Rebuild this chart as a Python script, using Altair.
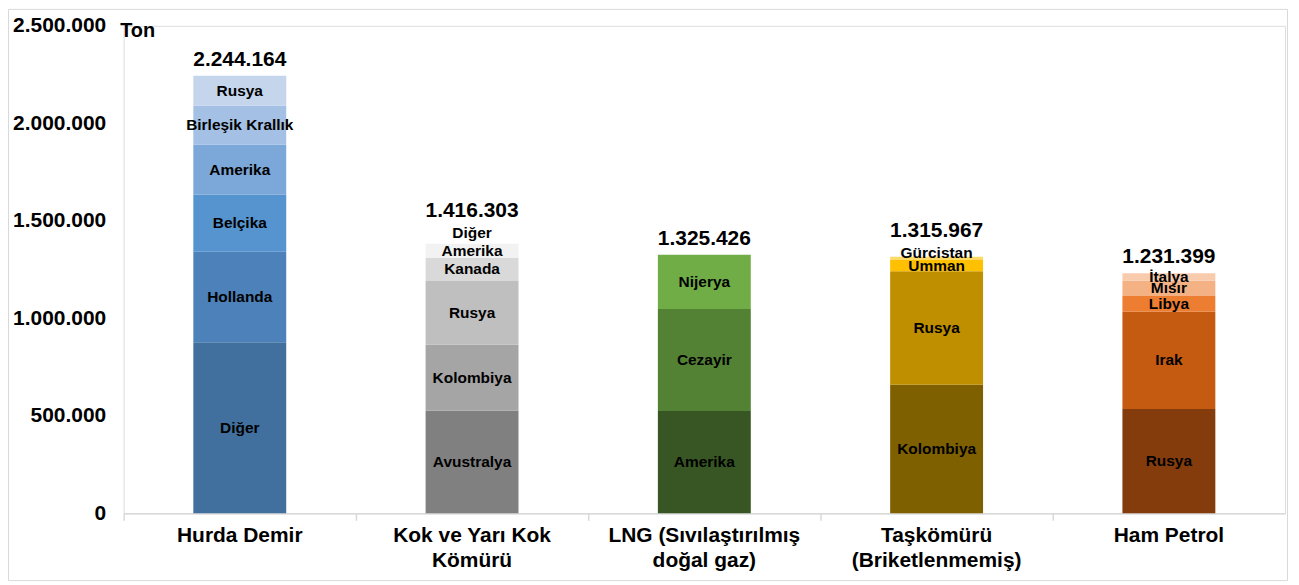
import altair as alt
import pandas as pd

FONT = "Liberation Sans"

categories = ["Hurda Demir", "Kok ve Yarı Kok|Kömürü", "LNG (Sıvılaştırılmış|doğal gaz)",
              "Taşkömürü|(Briketlenmemiş)", "Ham Petrol"]

hurda_countries = ["Diğer", "Hollanda", "Belçika", "Amerika", "Birleşik Krallık", "Rusya"]
hurda_values = [877000, 464000, 293000, 257000, 199000, 154164]
hurda_colors = ["#42709e", "#4c82b9", "#5594ce", "#7ca8d9", "#a4c1e5", "#c4d5ec"]

kok_countries = ["Avustralya", "Kolombiya", "Rusya", "Kanada", "Amerika", "Diğer"]
kok_values = [527000, 337000, 327000, 119000, 74000, 32303]
kok_colors = ["#808080", "#a5a5a5", "#bfbfbf", "#d9d9d9", "#f2f2f2", "#ffffff"]

lng_countries = ["Amerika", "Cezayir", "Nijerya"]
lng_values = [525000, 523000, 277426]
lng_colors = ["#375623", "#548235", "#70ad47"]

tas_countries = ["Kolombiya", "Rusya", "Umman", "Gürcistan"]
tas_values = [660000, 581000, 58000, 16967]
tas_colors = ["#7f6000", "#bf8f00", "#ffc000", "#ffd966"]

ham_countries = ["Rusya", "Irak", "Libya", "Mısır", "İtalya"]
ham_values = [535000, 500000, 80000, 78000, 38399]
ham_colors = ["#843c0c", "#c55a11", "#ed7d31", "#f4b183", "#f8cbad"]

y_ticks = [0, 500000, 1000000, 1500000, 2000000, 2500000]

groups = [
    (categories[0], hurda_countries, hurda_values, hurda_colors),
    (categories[1], kok_countries, kok_values, kok_colors),
    (categories[2], lng_countries, lng_values, lng_colors),
    (categories[3], tas_countries, tas_values, tas_colors),
    (categories[4], ham_countries, ham_values, ham_colors),
]

rows = []
tot_rows = []
SMALL = 35000
for cat, names, vals, cols in groups:
    for i, (n, v, c) in enumerate(zip(names, vals, cols)):
        rows.append({"category": cat, "country": n, "value": v, "color": c, "order": i})
    total = sum(vals)
    tot_rows.append({"category": cat, "total": total,
                     "label": f"{total:,}".replace(",", "."),
                     "raised": vals[-1] < SMALL})
df = pd.DataFrame(rows)
tot = pd.DataFrame(tot_rows)

yscale = alt.Scale(domain=[0, 2500000], nice=False, zero=True)

x_enc = alt.X(
    "category:N", sort=categories,
    scale=alt.Scale(paddingInner=0, paddingOuter=0),
    axis=alt.Axis(
        title=None, labelExpr="split(datum.label, '|')", labelFont=FONT,
        labelFontSize=21, labelFontWeight="bold", labelColor="#000000",
        labelAngle=0, labelPadding=4, labelLineHeight=25, labelBaseline="top",
        labelLimit=500, labelOverlap=False,
        domainColor="#d9d9d9", domainWidth=1.5, tickColor="#d9d9d9",
        tickSize=7, tickWidth=1.5, bandPosition=0,
    ),
)

y_axis = alt.Axis(
    values=y_ticks, labelExpr="replace(format(datum.value, ','), /,/g, '.')",
    grid=False, domain=False, ticks=False, labelPadding=18,
    labelFont=FONT, labelFontSize=21, labelFontWeight="bold", labelColor="#000000",
    title="Ton", titleAngle=0, titleAlign="left", titleBaseline="middle",
    titleX=-4, titleY=5, titleFont=FONT, titleFontSize=20, titleFontWeight="bold",
    titleColor="#000000",
)

bars = alt.Chart(df).mark_bar(width=alt.RelativeBandSize(0.4)).encode(
    x=x_enc,
    y=alt.Y("value:Q", stack="zero", scale=yscale, axis=y_axis),
    color=alt.Color("color:N", scale=None),
    order=alt.Order("order:Q", sort="ascending"),
)

seg = alt.Chart(df).transform_stack(
    stack="value", groupby=["category"],
    sort=[alt.SortField("order", order="ascending")], as_=["y0", "y1"]
).transform_calculate(mid="(datum.y0 + datum.y1) / 2")

seg_text = seg.transform_filter(f"datum.value >= {SMALL}").mark_text(
    font=FONT, fontSize=15.5, fontWeight="bold", color="#000000", baseline="middle"
).encode(
    x=alt.X("category:N", sort=categories),
    y=alt.Y("mid:Q", scale=yscale),
    text="country:N",
)

seg_small = seg.transform_filter(f"datum.value < {SMALL}").mark_text(
    font=FONT, fontSize=15.5, fontWeight="bold", color="#000000", baseline="middle", dy=-4
).encode(
    x=alt.X("category:N", sort=categories),
    y=alt.Y("y1:Q", scale=yscale),
    text="country:N",
)

tot_base = alt.Chart(tot)
tot_text = tot_base.transform_filter("!datum.raised").mark_text(
    font=FONT, fontSize=21, fontWeight="bold", color="#000000", baseline="middle", dy=-16
).encode(
    x=alt.X("category:N", sort=categories),
    y=alt.Y("total:Q", scale=yscale),
    text="label:N",
)
tot_text2 = tot_base.transform_filter("datum.raised").mark_text(
    font=FONT, fontSize=21, fontWeight="bold", color="#000000", baseline="middle", dy=-26
).encode(
    x=alt.X("category:N", sort=categories),
    y=alt.Y("total:Q", scale=yscale),
    text="label:N",
)

frame = alt.Chart(pd.DataFrame({"f": [0]})).mark_rect(
    fillOpacity=0, stroke="#d9d9d9", strokeWidth=1
).encode(
    x=alt.value(-115.5), x2=alt.value(1167.5), y=alt.value(-16.5), y2=alt.value(556.5)
)

chart = alt.layer(frame, bars, seg_text, seg_small, tot_text, tot_text2).properties(
    width=1165, height=489,
    autosize=alt.AutoSizeParams(type="none"),
    padding={"left": 116, "top": 17, "right": 6, "bottom": 70},
).configure_view(stroke=None).configure(background="#ffffff")

chart.save("out.html", embed_options={"renderer": "svg", "actions": False})
